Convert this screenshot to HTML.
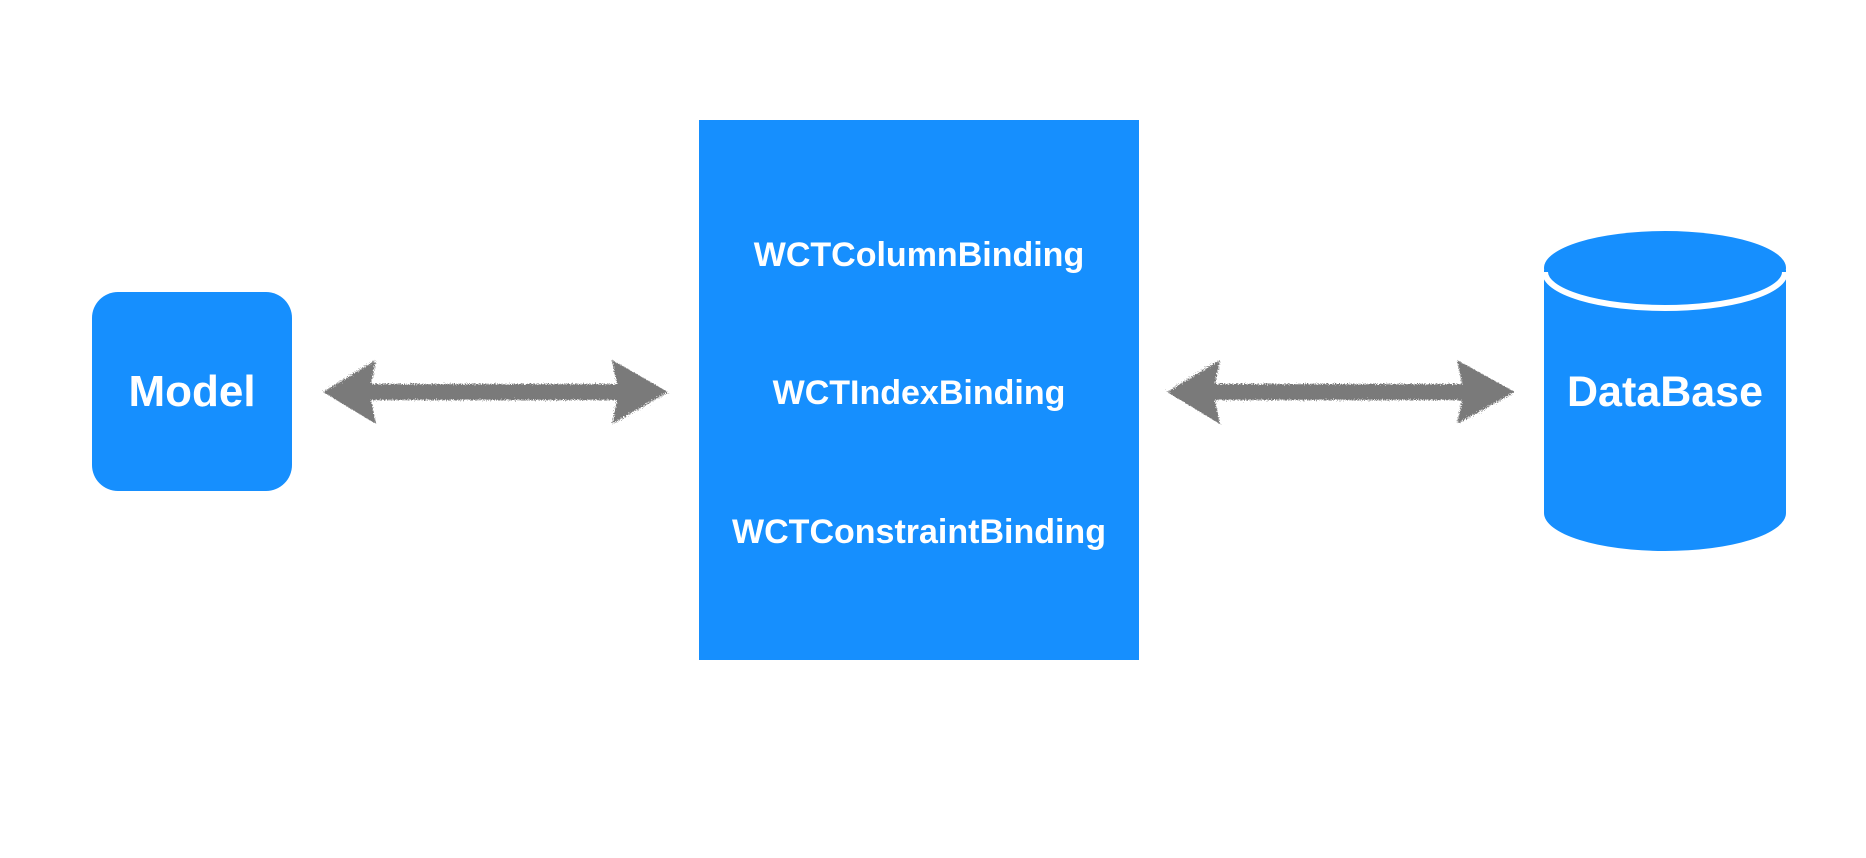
<!DOCTYPE html>
<html><head><style>
html,body{margin:0;padding:0;background:#fff;}
body{width:1866px;height:858px;position:relative;overflow:hidden;font-family:"Liberation Sans",Arial,sans-serif;}
.t{position:absolute;color:#fff;font-weight:bold;text-align:center;white-space:nowrap;}
</style></head><body>
<svg width="1866" height="858" style="position:absolute;left:0;top:0">
<defs>
<filter id="r"><feTurbulence type="fractalNoise" baseFrequency="0.9" numOctaves="2" result="n"/><feDisplacementMap in="SourceGraphic" in2="n" scale="6"/></filter>
</defs>
<rect x="92" y="292" width="200" height="199" rx="26" fill="#168ffe"/>
<rect x="699" y="120" width="440" height="540" fill="#168ffe"/>
<path d="M1544 270 L1544 513 A121 38 0 0 0 1786 513 L1786 270 Z" fill="#168ffe"/>
<ellipse cx="1665" cy="268" rx="121" ry="37" fill="#168ffe"/>
<path d="M1545 272 A120 36 0 0 0 1785 272" fill="none" stroke="#fff" stroke-width="6"/>
<g fill="#7a7a7a" filter="url(#r)">
<path d="M323 392 L376 360 L371 384 L617 384 L612 360 L668 392 L612 424 L617 400 L371 400 L376 424 Z"/>
<path d="M1167 392 L1220 360 L1215 384 L1462 384 L1457 360 L1515 392 L1457 424 L1462 400 L1215 400 L1220 424 Z"/>
</g>
</svg>
<div class="t" style="left:92px;width:200px;top:367px;font-size:44px;">Model</div>
<div class="t" style="left:1544px;width:242px;top:368px;font-size:43px;">DataBase</div>
<div class="t" style="left:699px;width:440px;top:236px;font-size:34px;">WCTColumnBinding</div>
<div class="t" style="left:699px;width:440px;top:374px;font-size:34px;">WCTIndexBinding</div>
<div class="t" style="left:699px;width:440px;top:513px;font-size:34px;">WCTConstraintBinding</div>
</body></html>
